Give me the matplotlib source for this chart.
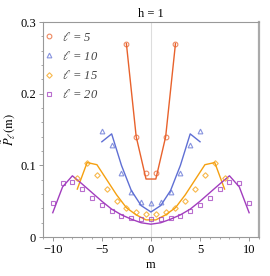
import matplotlib
matplotlib.use("Agg")
import matplotlib.pyplot as plt
from matplotlib.ticker import MultipleLocator
import numpy as np

plt.rcParams['font.family'] = ['Liberation Serif', 'DejaVu Serif']
plt.rcParams['mathtext.fontset'] = 'stix'

# ell = 5
m5 = [-2.5, -1.5, -0.5, 0.5, 1.5, 2.5]
pts5 = [0.270, 0.140, 0.090, 0.090, 0.140, 0.270]
line5 = [0.270, 0.140, 0.081, 0.081, 0.140, 0.270]

# ell = 10
m10 = [-5, -4, -3, -2, -1, 0, 1, 2, 3, 4, 5]
pts10 = [0.148, 0.129, 0.089, 0.063, 0.049, 0.047, 0.049, 0.063, 0.089, 0.129, 0.148]
line10 = [0.133, 0.144, 0.100, 0.065, 0.044, 0.035, 0.044, 0.065, 0.100, 0.144, 0.133]

# ell = 15
m15 = [-7.5, -6.5, -5.5, -4.5, -3.5, -2.5, -1.5, -0.5, 0.5, 1.5, 2.5, 3.5, 4.5, 5.5, 6.5, 7.5]
pts15 = [0.083, 0.103, 0.0865, 0.067, 0.051, 0.041, 0.035, 0.032,
         0.032, 0.035, 0.041, 0.051, 0.067, 0.0865, 0.103, 0.083]
line15 = [0.067, 0.104, 0.101, 0.080, 0.059, 0.041, 0.031, 0.024,
          0.024, 0.031, 0.041, 0.059, 0.080, 0.101, 0.104, 0.067]

# ell = 20
m20 = list(range(-10, 11))
pts20 = [0.047, 0.075, 0.077, 0.067, 0.055, 0.045, 0.037, 0.030, 0.027, 0.025, 0.025,
         0.025, 0.027, 0.030, 0.037, 0.045, 0.055, 0.067, 0.077, 0.075, 0.047]
line20 = [0.034, 0.070, 0.0855, 0.074, 0.062, 0.050, 0.039, 0.031, 0.025, 0.020, 0.018,
          0.020, 0.025, 0.031, 0.039, 0.050, 0.062, 0.074, 0.0855, 0.070, 0.034]

series = [
    (m5, pts5, line5, '#E8622C', 'o', r'$\ell$ = 5'),
    (m10, pts10, line10, '#5F6FD4', '^', r'$\ell$ = 10'),
    (m15, pts15, line15, '#F5A010', 'D', r'$\ell$ = 15'),
    (m20, pts20, line20, '#A23DBE', 's', r'$\ell$ = 20'),
]

fig = plt.figure(figsize=(2.70, 2.76), dpi=100)
ax = fig.add_axes([0.159, 0.141, 0.800, 0.779])

ax.axvline(0, color='#dddddd', lw=0.8, zorder=0)

for m, p, l, c, mk, lab in series:
    ax.plot(m, l, color=c, lw=1.0, zorder=2)
    ms = 3.4 if mk != 'D' else 2.8
    ax.plot(m, p, linestyle='none', marker=mk, ms=ms, mfc='none', mec=c,
            mew=0.8, alpha=0.75, label=lab, zorder=3)

ax.set_xlim(-11, 11)
ax.set_ylim(0, 0.3)
ax.xaxis.set_major_locator(MultipleLocator(5))
ax.xaxis.set_minor_locator(MultipleLocator(1))
ax.yaxis.set_major_locator(MultipleLocator(0.1))
ax.yaxis.set_minor_locator(MultipleLocator(0.02))
ax.set_yticks([0, 0.1, 0.2, 0.3])
ax.set_yticklabels(['0', '0.1', '0.2', '0.3'])
ax.set_xticks([-10, -5, 0, 5, 10])
ax.set_xticklabels(['\u221210', '\u22125', '0', '5', '10'])

ax.tick_params(which='major', length=3, width=0.6, color='#888888', labelsize=9, pad=2)
ax.tick_params(which='minor', length=1.5, width=0.5, color='#888888')
for s in ax.spines.values():
    s.set_color('#999999')
    s.set_linewidth(0.8)
ax.spines['right'].set_linewidth(1.6)
ax.spines['right'].set_color('#aaaaaa')

ax.set_xlabel('m', fontsize=9, labelpad=2)
ax.set_ylabel(r'$\tilde{P}_\ell(\mathrm{m})$', fontsize=9, labelpad=2)
ax.set_title('h = 1', fontsize=9, pad=4)

leg = ax.legend(loc='upper left', bbox_to_anchor=(0.0, 0.972), frameon=False,
                fontsize=9, handlelength=0.6, handletextpad=0.7, labelspacing=0.5,
                borderaxespad=0.0, borderpad=0.2)
for t in leg.get_texts():
    t.set_color('#444444')
    t.set_fontstyle('italic')

fig.savefig('out.png', dpi=100)
